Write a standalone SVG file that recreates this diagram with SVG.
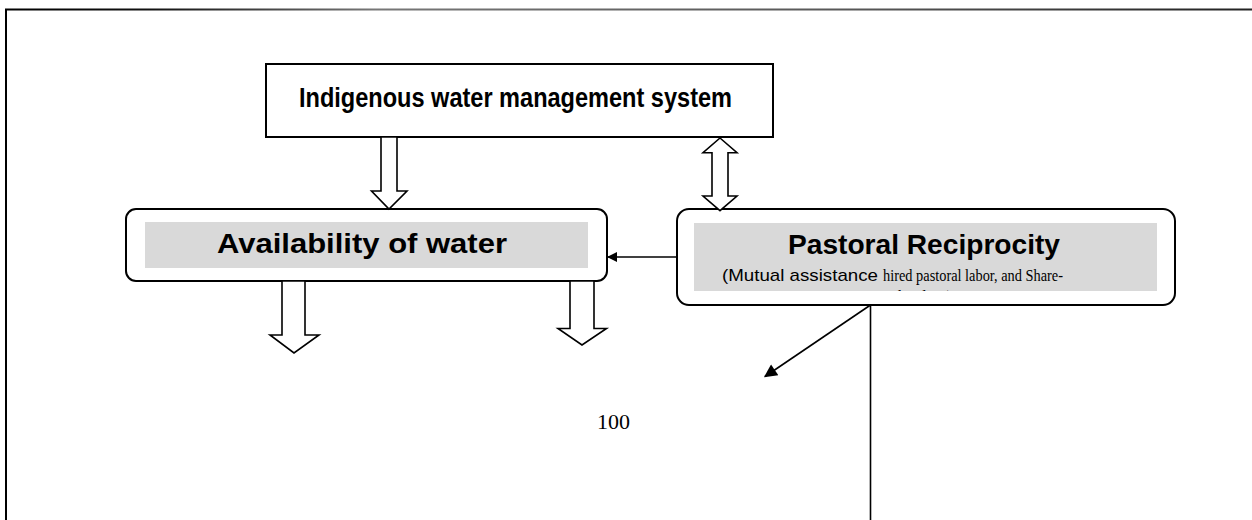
<svg xmlns="http://www.w3.org/2000/svg" width="1252" height="520" viewBox="0 0 1252 520">
<style>
.box{fill:#fff;stroke:#000;stroke-width:2}
.band{fill:#d9d9d9;stroke:none}
.hollow{fill:#fff;stroke:#000;stroke-width:1.6;stroke-linejoin:miter}
.conn{fill:none;stroke:#000;stroke-width:1.6}
.sansb{font-family:"Liberation Sans",Arial,sans-serif;font-weight:bold;fill:#000}
.sans{font-family:"Liberation Sans",Arial,sans-serif;fill:#000}
.serif{font-family:"Liberation Serif","Times New Roman",serif;fill:#000}
</style>
<defs>
<marker id="tri" viewBox="0 0 10 10" refX="9" refY="5" markerWidth="12" markerHeight="10" markerUnits="userSpaceOnUse" orient="auto">
<path d="M0,0 L10,5 L0,10 z" fill="#000"/>
</marker>
<marker id="tri2" viewBox="0 0 10 10" refX="9" refY="5" markerWidth="15" markerHeight="13" markerUnits="userSpaceOnUse" orient="auto">
<path d="M0,0 L10,5 L0,10 z" fill="#000"/>
</marker>
<linearGradient id="topline" x1="0" y1="0" x2="1252" y2="0" gradientUnits="userSpaceOnUse">
<stop offset="0" stop-color="#000"/>
<stop offset="0.12" stop-color="#111"/>
<stop offset="0.3" stop-color="#777"/>
<stop offset="0.7" stop-color="#555"/>
<stop offset="1" stop-color="#222"/>
</linearGradient>
<clipPath id="pclip"><rect x="680" y="212" width="492" height="79"/></clipPath>
</defs>

<g id="page-frame">
<line x1="5" y1="9.5" x2="1252" y2="9.5" stroke="url(#topline)" stroke-width="2.2"/>
<line x1="6" y1="9" x2="6" y2="520" stroke="#000" stroke-width="2"/>
</g>

<g id="node-indigenous">
<rect class="box" x="266" y="64" width="507" height="73"/>
<text class="sansb" x="299" y="107" font-size="27" textLength="433" lengthAdjust="spacingAndGlyphs">Indigenous water management system</text>
</g>

<g id="node-availability">
<rect class="box" x="126" y="209" width="481" height="72" rx="10" ry="10"/>
<rect class="band" x="145" y="222" width="443" height="46"/>
<text class="sansb" x="217" y="253" font-size="27" textLength="290" lengthAdjust="spacingAndGlyphs">Availability of water</text>
</g>

<g id="node-pastoral">
<rect class="box" x="677" y="209" width="498" height="96" rx="12" ry="12"/>
<rect class="band" x="694" y="223" width="463" height="68"/>
<text class="sansb" x="788" y="253.5" font-size="28" textLength="272" lengthAdjust="spacingAndGlyphs">Pastoral Reciprocity</text>
<text class="sans" x="722" y="281" font-size="17" textLength="156" lengthAdjust="spacingAndGlyphs">(Mutual assistance</text>
<text class="serif" x="883" y="281" font-size="17.5" textLength="180" lengthAdjust="spacingAndGlyphs">hired pastoral labor, and Share-</text>
<text class="serif" x="925" y="302" font-size="16" text-anchor="middle" clip-path="url(#pclip)">herding)</text>
</g>

<g id="page-number">
<text class="serif" x="597" y="429" font-size="22">100</text>
</g>

<g id="connectors">
<path class="hollow" d="M381,137 L397,137 L397,191 L407,191 L389,209 L371.5,191 L381,191 Z"/>
<path class="hollow" d="M720,138 L737,152.7 L728,152.7 L728,196 L737,196 L720,210.7 L703,196 L712,196 L712,152.7 L703,152.7 Z"/>
<path class="hollow" d="M282,281 L305,281 L305,335 L319,335 L294,353 L270,335 L282,335 Z"/>
<path class="hollow" d="M570,281 L594,281 L594,328.5 L606.5,328.5 L582,345 L558,328.5 L570,328.5 Z"/>
<line class="conn" x1="677" y1="257" x2="608" y2="257" marker-end="url(#tri)"/>
<line class="conn" x1="870.5" y1="305" x2="765" y2="376.5" marker-end="url(#tri2)"/>
<line class="conn" x1="870.5" y1="305" x2="870.5" y2="520"/>
</g>
</svg>
